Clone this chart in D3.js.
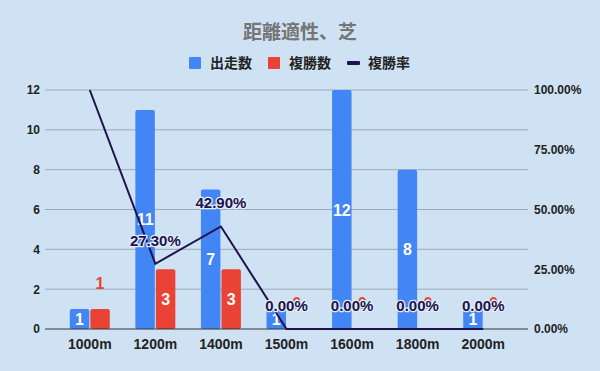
<!DOCTYPE html>
<html>
<head>
<meta charset="utf-8">
<script src="https://cdn.jsdelivr.net/npm/d3@7"></script>
<style>
  body { margin: 0; background: #cfe2f3; }
  svg { display: block; font-family: "Liberation Sans", Arial, "Noto Sans CJK JP", sans-serif; }
</style>
</head>
<body>
<div id="chart"></div>
<script>
// 距離別データ
const distances = ["1000m", "1200m", "1400m", "1500m", "1600m", "1800m", "2000m"]
const runs = [1, 11, 7, 1, 12, 8, 1]          // 出走数
const places = [1, 3, 3, 0, 0, 0, 0]          // 複勝数
const placeRate = [1.0, 0.273, 0.429, 0, 0, 0, 0]  // 複勝率
const leftTicks = [0, 2, 4, 6, 8, 10, 12]
const rightTicks = [0, 0.25, 0.5, 0.75, 1]

const W = 600, H = 371
const plotL = 45, plotR = 528, plotT = 90, plotB = 329
const blue = "#4285f4", red = "#ea4335", navy = "#20124d", bg = "#cfe2f3"

const svg = d3.select("#chart").append("svg")
    .attr("width", W).attr("height", H)

svg.append("rect").attr("width", W).attr("height", H).attr("fill", bg)

// title
svg.append("text")
    .attr("x", 300).attr("y", 39)
    .attr("text-anchor", "middle")
    .style("font-size", "19px").style("font-weight", "bold")
    .style("font-family", "'Noto Sans CJK JP', sans-serif")
    .attr("fill", "#757575")
    .text("距離適性、芝")

// legend
const legend = [
    {name: "出走数", color: blue, x: 189, type: "rect"},
    {name: "複勝数", color: red, x: 268, type: "rect"},
    {name: "複勝率", color: navy, x: 347, type: "line"}
]
const lg = svg.append("g")
legend.forEach(d => {
    if (d.type == "rect") {
        lg.append("rect").attr("x", d.x).attr("y", 57).attr("width", 12).attr("height", 12)
            .attr("rx", 1).attr("fill", d.color)
    } else {
        lg.append("rect").attr("x", d.x).attr("y", 61).attr("width", 13).attr("height", 4)
            .attr("rx", 1).attr("fill", d.color)
    }
    lg.append("text").attr("x", d.x + 21).attr("y", 68)
        .style("font-size", "14px").style("font-weight", "bold")
        .style("font-family", "'Noto Sans CJK JP', sans-serif")
        .attr("fill", "#222").text(d.name)
})

// scales
const x = d3.scaleBand().domain(distances).range([57, 516])
const xs = d3.scaleBand().domain(["runs", "places"]).range([0, 40]).paddingInner(0.05)
const y = d3.scaleLinear().domain([0, 12]).range([plotB, plotT])
const yR = d3.scaleLinear().domain([0, 1]).range([plotB, plotT])
const cx = d => x(d) + x.bandwidth() / 2

// gridlines
svg.append("g").selectAll("line")
    .data(leftTicks.filter(t => t > 0)).enter()
    .append("line")
    .attr("x1", plotL).attr("x2", plotR)
    .attr("y1", d => y(d)).attr("y2", d => y(d))
    .attr("stroke", "#9ea9b6").attr("stroke-width", 1)

// left axis
const axL = svg.append("g")
    .attr("transform", `translate(${plotL},0)`)
    .call(d3.axisLeft(y).tickValues(leftTicks).tickSize(0).tickPadding(5))
axL.select(".domain").remove()
axL.selectAll("text").style("font-size", "12px").style("font-weight", "bold").attr("fill", "#222")

// right axis
const axR = svg.append("g")
    .attr("transform", `translate(${plotR},0)`)
    .call(d3.axisRight(yR).tickValues(rightTicks).tickFormat(d3.format(".2%")).tickSize(0).tickPadding(6))
axR.select(".domain").remove()
axR.selectAll("text").style("font-size", "12px").style("font-weight", "bold").attr("fill", "#222")

// x axis
const axX = svg.append("g")
    .attr("transform", `translate(0,${plotB})`)
    .call(d3.axisBottom(x).tickSize(0).tickPadding(10))
axX.select(".domain").remove()
axX.selectAll("text").style("font-size", "14px").style("font-weight", "bold").attr("fill", "#222")

// bars
const rows = distances.map((d, i) => ({dist: d, runs: runs[i], places: places[i], rate: placeRate[i]}))
const g = svg.append("g")
g.selectAll(".bar-runs").data(rows).enter().append("rect")
    .attr("class", "bar-runs")
    .attr("x", d => cx(d.dist) - 20 + xs("runs"))
    .attr("width", xs.bandwidth())
    .attr("y", d => y(d.runs))
    .attr("height", d => y(0) - y(d.runs))
    .attr("rx", 2).attr("fill", blue)
g.selectAll(".bar-places").data(rows.filter(d => d.places > 0)).enter().append("rect")
    .attr("class", "bar-places")
    .attr("x", d => cx(d.dist) - 20 + xs("places"))
    .attr("width", xs.bandwidth())
    .attr("y", d => y(d.places))
    .attr("height", d => y(0) - y(d.places))
    .attr("rx", 2).attr("fill", red)

// baseline
svg.append("line").attr("x1", plotL).attr("x2", plotR)
    .attr("y1", y(0)).attr("y2", y(0))
    .attr("stroke", "#333").attr("stroke-width", 1.2)

// bar labels
g.selectAll(".lab-runs").data(rows).enter().append("text")
    .attr("x", d => cx(d.dist) - 20 + xs("runs") + xs.bandwidth() / 2)
    .attr("y", d => (y(d.runs) + y(0)) / 2 + 6)
    .attr("text-anchor", "middle")
    .style("font-size", "16px").style("font-weight", "bold")
    .attr("fill", "#fff")
    .text(d => d.runs)
g.selectAll(".lab-places").data(rows).enter().append("text")
    .attr("x", d => cx(d.dist) - 20 + xs("places") + xs.bandwidth() / 2)
    .attr("y", d => d.places >= 2 ? (y(d.places) + y(0)) / 2 + 6 : y(d.places) - 20)
    .attr("text-anchor", "middle")
    .style("font-size", "16px").style("font-weight", "bold")
    .attr("fill", d => d.places >= 2 ? "#fff" : red)
    .text(d => d.places)

// rate line
const line = d3.line().x(d => cx(d.dist)).y(d => yR(d.rate))
svg.append("path").datum(rows)
    .attr("d", line)
    .attr("fill", "none").attr("stroke", navy).attr("stroke-width", 2)

// rate labels
svg.append("g").selectAll("text")
    .data(rows.filter(d => yR(d.rate) - 17 > plotT)).enter()
    .append("text")
    .attr("x", d => cx(d.dist))
    .attr("y", d => yR(d.rate) - 18)
    .attr("text-anchor", "middle")
    .style("font-size", "15px").style("font-weight", "bold")
    .style("paint-order", "stroke")
    .attr("stroke", "#e3eef8").attr("stroke-width", 2.5).attr("stroke-linejoin", "round")
    .attr("fill", navy)
    .text(d => d3.format(".2%")(d.rate))
</script>
</body>
</html>
